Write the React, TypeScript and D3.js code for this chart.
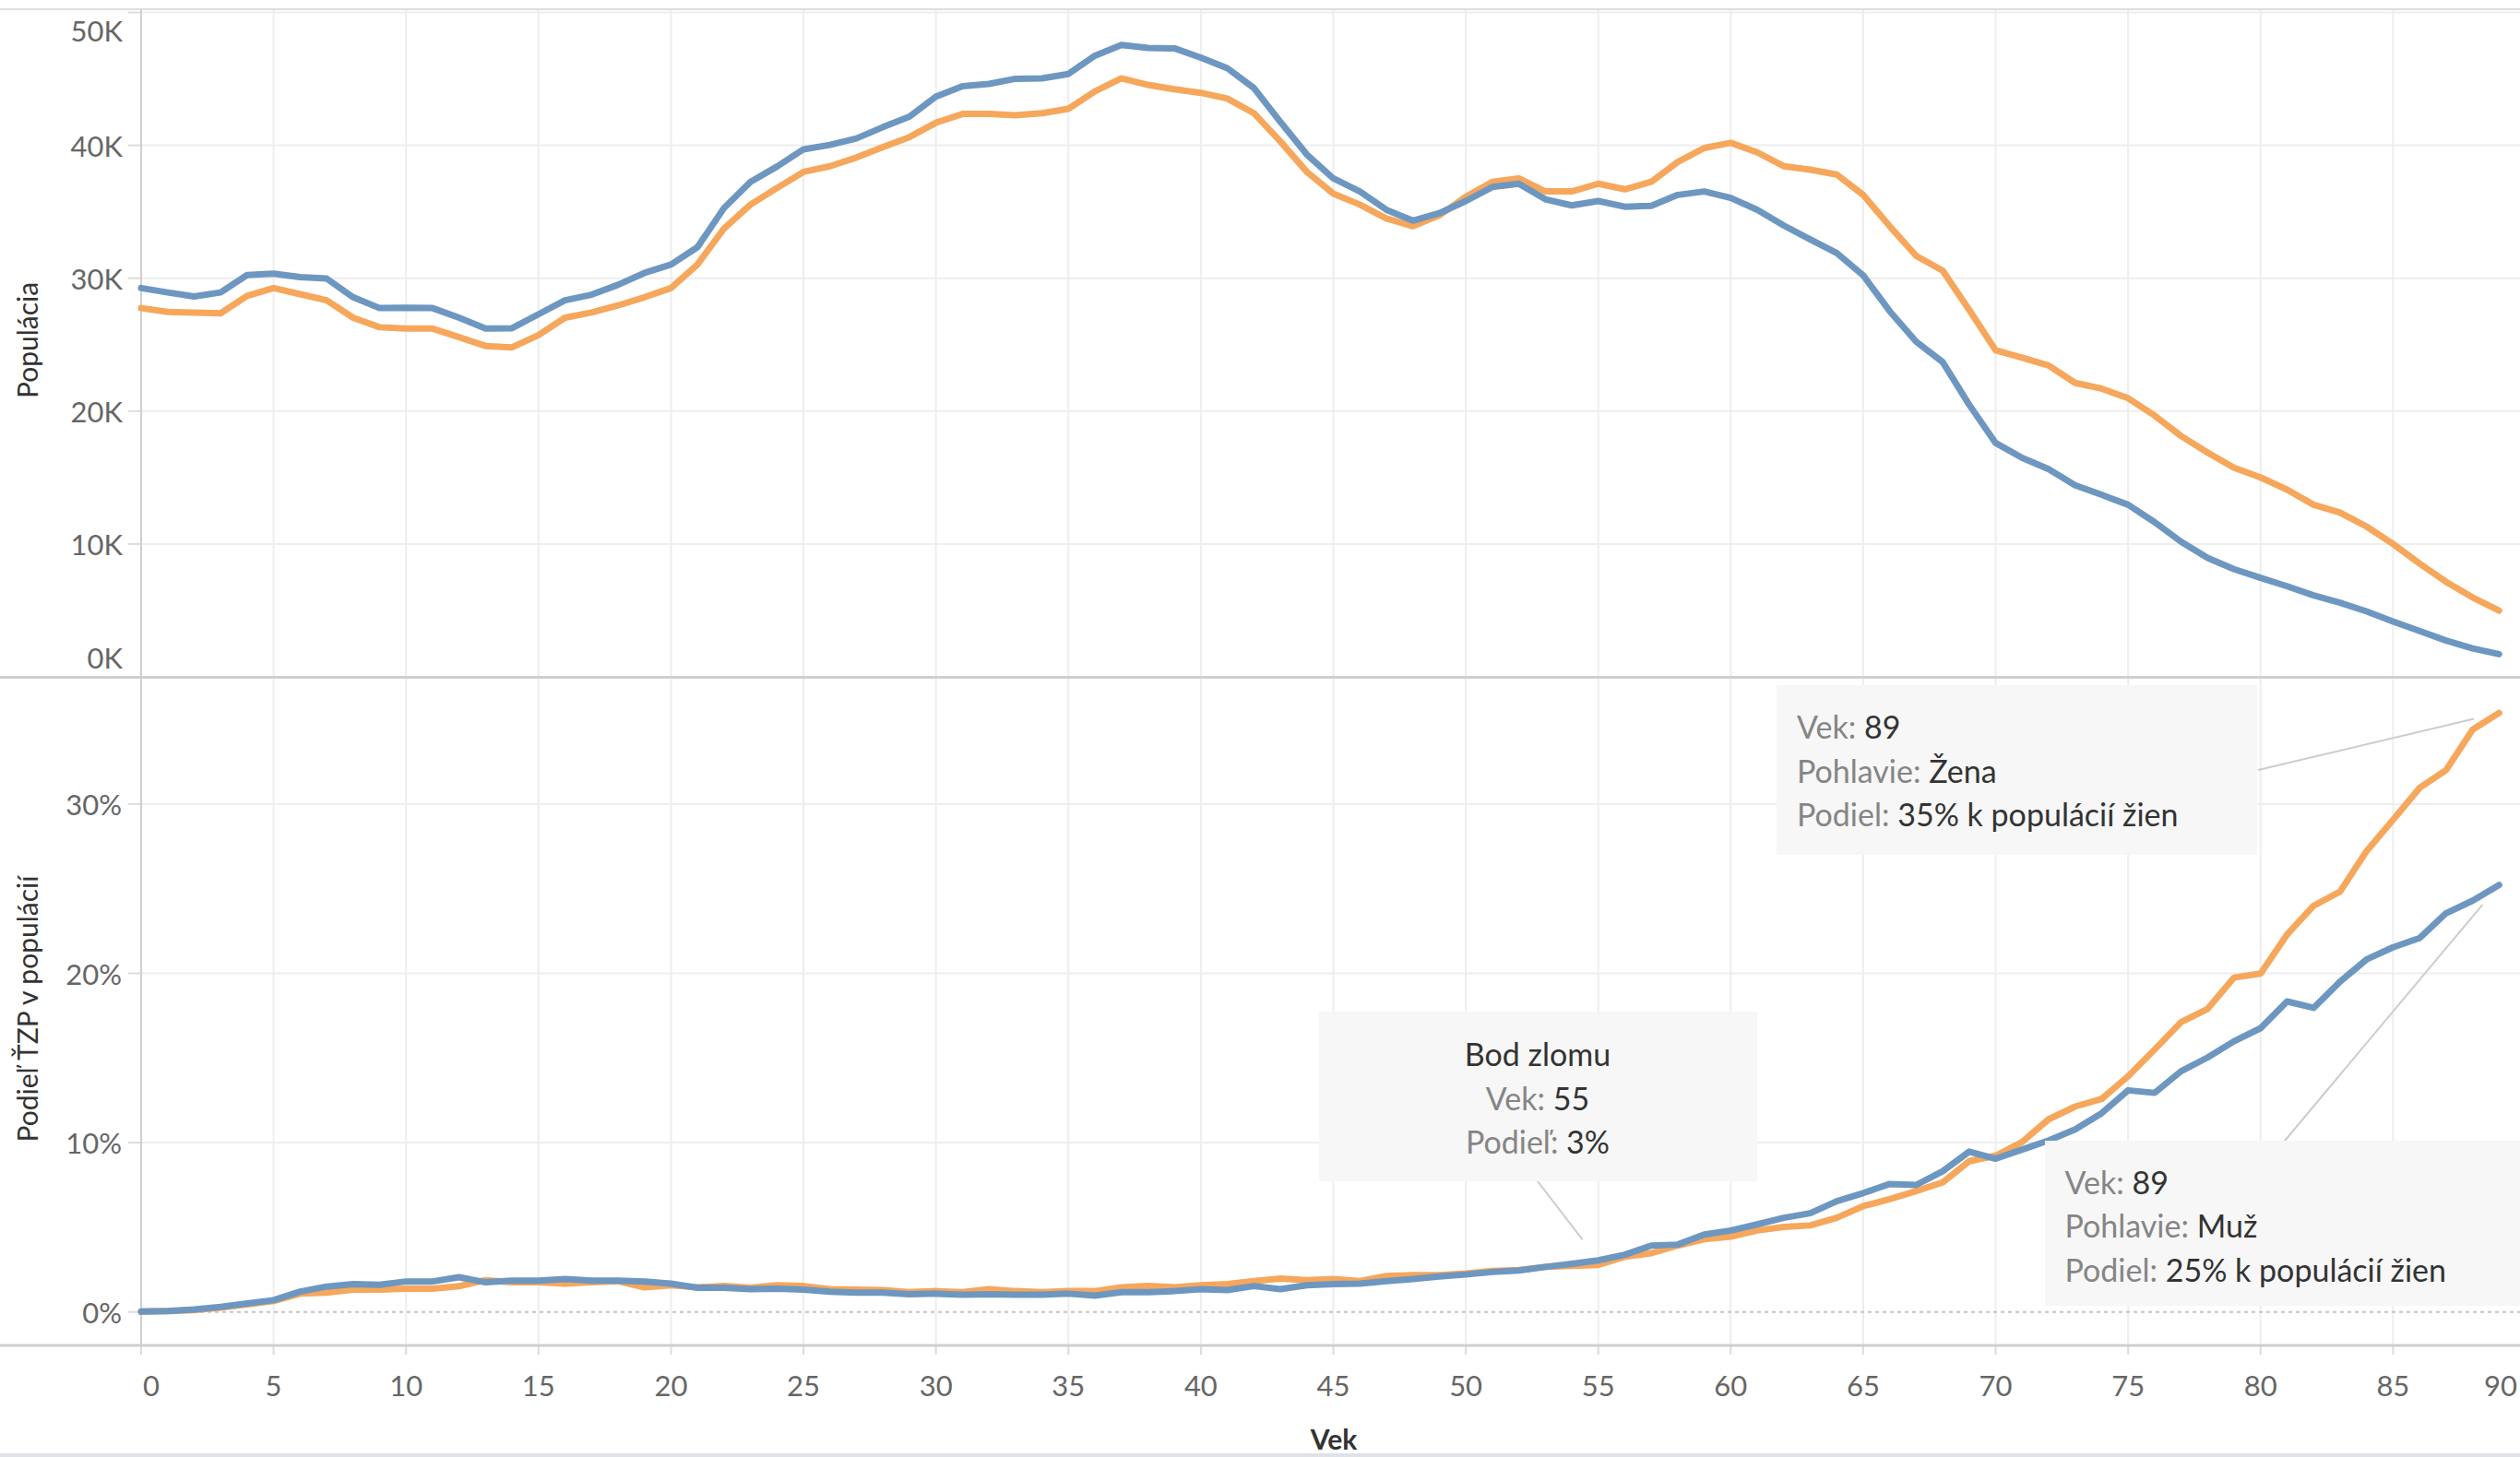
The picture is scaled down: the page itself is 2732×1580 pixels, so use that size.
import React, { useEffect, useRef } from 'react';
import * as d3 from 'd3';

// vek 0..89, index = vek
const popMuzi = [
  29.26, 28.93, 28.63, 28.93, 30.24, 30.34, 30.08, 29.98, 28.57, 27.75,
  27.78, 27.75, 27.03, 26.21, 26.24, 27.29, 28.34, 28.76, 29.5, 30.4,
  31.03, 32.34, 35.28, 37.25, 38.4, 39.7, 40.03, 40.52, 41.37, 42.16,
  43.67, 44.45, 44.62, 45.01, 45.04, 45.37, 46.74, 47.56, 47.33, 47.3,
  46.6, 45.8, 44.32, 41.77, 39.31, 37.51, 36.53, 35.15, 34.33, 34.89,
  35.81, 36.86, 37.11, 35.94, 35.48, 35.81, 35.38, 35.45, 36.27, 36.53,
  36.04, 35.15, 33.97, 32.92, 31.9, 30.21, 27.52, 25.23, 23.69, 20.48,
  17.6, 16.48, 15.63, 14.42, 13.7, 12.95, 11.64, 10.17, 8.95, 8.1,
  7.45, 6.82, 6.13, 5.58, 4.93, 4.17, 3.45, 2.73, 2.14, 1.71,
];
const popZeny = [
  27.75, 27.46, 27.42, 27.36, 28.67, 29.26, 28.8, 28.34, 27.03, 26.31,
  26.21, 26.21, 25.56, 24.9, 24.8, 25.72, 27.03, 27.42, 27.95, 28.57,
  29.26, 31.03, 33.74, 35.54, 36.79, 38.0, 38.43, 39.08, 39.87, 40.62,
  41.7, 42.36, 42.36, 42.26, 42.42, 42.75, 44.06, 45.04, 44.55, 44.22,
  43.95, 43.52, 42.42, 40.29, 38.0, 36.36, 35.54, 34.5, 33.91, 34.73,
  36.13, 37.25, 37.51, 36.53, 36.53, 37.11, 36.69, 37.25, 38.75, 39.8,
  40.19, 39.47, 38.43, 38.17, 37.8, 36.27, 33.91, 31.68, 30.57, 27.62,
  24.57, 24.02, 23.43, 22.12, 21.69, 20.97, 19.66, 18.12, 16.88, 15.73,
  15.01, 14.09, 12.95, 12.36, 11.31, 10.0, 8.53, 7.15, 5.98, 4.99,
];
// podiel TZP v %
const podielMuzi = [
  0.02, 0.05, 0.15, 0.3, 0.5, 0.7, 1.2, 1.5, 1.65, 1.6,
  1.8, 1.8, 2.05, 1.75, 1.85, 1.85, 1.95, 1.85, 1.85, 1.8,
  1.67, 1.43, 1.43, 1.35, 1.37, 1.32, 1.2, 1.14, 1.14, 1.05,
  1.08, 1.02, 1.05, 1.02, 1.02, 1.08, 0.96, 1.17, 1.17, 1.23,
  1.35, 1.29, 1.53, 1.35, 1.58, 1.64, 1.67, 1.82, 1.94, 2.09,
  2.21, 2.36, 2.45, 2.66, 2.84, 3.05, 3.38, 3.92, 3.98, 4.57,
  4.81, 5.17, 5.56, 5.83, 6.54, 7.02, 7.56, 7.5, 8.31, 9.47,
  9.05, 9.59, 10.13, 10.78, 11.74, 13.09, 12.94, 14.22, 15.03, 15.99,
  16.76, 18.34, 17.96, 19.51, 20.82, 21.54, 22.08, 23.55, 24.29, 25.22,
];
const podielZeny = [
  0.02, 0.05, 0.1, 0.25, 0.45, 0.65, 1.08, 1.14, 1.32, 1.32,
  1.37, 1.37, 1.52, 1.88, 1.76, 1.76, 1.67, 1.76, 1.82, 1.45,
  1.58, 1.46, 1.53, 1.43, 1.58, 1.53, 1.35, 1.32, 1.29, 1.17,
  1.23, 1.17, 1.35, 1.23, 1.17, 1.23, 1.23, 1.46, 1.53, 1.46,
  1.58, 1.64, 1.82, 1.97, 1.88, 1.94, 1.82, 2.12, 2.18, 2.18,
  2.27, 2.42, 2.48, 2.66, 2.72, 2.78, 3.26, 3.47, 3.92, 4.3,
  4.45, 4.81, 5.02, 5.11, 5.56, 6.25, 6.66, 7.14, 7.65, 8.9,
  9.23, 10.04, 11.38, 12.13, 12.58, 13.92, 15.5, 17.12, 17.9, 19.75,
  19.99, 22.29, 23.99, 24.83, 27.22, 29.07, 30.95, 32.0, 34.39, 35.38,
];

const ageTicks = [0, 5, 10, 15, 20, 25, 30, 35, 40, 45, 50, 55, 60, 65, 70, 75, 80, 85, 90];
const popTicks = [0, 10000, 20000, 30000, 40000, 50000];
const shareTicks = [0, 0.1, 0.2, 0.3];

const BLUE = '#6d97c0';
const ORANGE = '#f6a75b';
const FONT = 'Lato, "Open Sans", sans-serif';

type Part = { label: string; value: string };
type Note = {
  box: [number, number, number, number];
  lines: Part[];
  align: 'start' | 'middle';
  textX: number;
  firstY: number;
  from: [number, number];
  age: number;
  share: number;
};

const notes: Note[] = [
  {
    box: [1430, 1097, 475, 184],
    lines: [
      { label: '', value: 'Bod zlomu' },
      { label: 'Vek: ', value: '55' },
      { label: 'Podieľ: ', value: '3%' },
    ],
    align: 'middle',
    textX: 1667,
    firstY: 1143.5,
    from: [1667, 1281],
    age: 55,
    share: podielMuzi[55] / 100,
  },
  {
    box: [1926, 743, 521, 184],
    lines: [
      { label: 'Vek: ', value: '89' },
      { label: 'Pohlavie: ', value: 'Žena' },
      { label: 'Podiel: ', value: '35% k populácií žien' },
    ],
    align: 'start',
    textX: 1948,
    firstY: 788.6,
    from: [2448, 835],
    age: 89,
    share: podielZeny[89] / 100,
  },
  {
    box: [2217, 1237, 540, 179],
    lines: [
      { label: 'Vek: ', value: '89' },
      { label: 'Pohlavie: ', value: 'Muž' },
      { label: 'Podiel: ', value: '25% k populácií žien' },
    ],
    align: 'start',
    textX: 2238.5,
    firstY: 1282,
    from: [2477, 1237],
    age: 89,
    share: podielMuzi[89] / 100,
  },
];

export default function App() {
  const svgRef = useRef<SVGSVGElement | null>(null);
  const W = 2732;
  const H = 1580;

  useEffect(() => {
    const svg = d3.select(svgRef.current!);
    svg.selectAll('*').remove();

    const top = { y0: 10, y1: 734 };
    const bot = { y0: 735, y1: 1459 };
    const left = 153;

    const x = d3.scaleLinear().domain([0, 90]).range([left, 2738]);
    const yPop = d3.scaleLinear().domain([0, 50000]).range([734, 13.5]);
    const yShare = d3.scaleLinear().domain([0, 0.3]).range([1422.7, 871.9]);

    // spodny pruh
    svg.append('rect').attr('x', 0).attr('y', 1576).attr('width', W).attr('height', 4).attr('fill', '#dfe2e6');

    const grid = svg.append('g').attr('stroke', '#eeeeee').attr('stroke-width', 2);
    ageTicks.slice(1).forEach((t) => {
      grid.append('line').attr('x1', x(t)).attr('x2', x(t)).attr('y1', top.y0).attr('y2', top.y1);
      grid.append('line').attr('x1', x(t)).attr('x2', x(t)).attr('y1', bot.y0).attr('y2', bot.y1);
    });
    popTicks.slice(1).forEach((t) => {
      grid.append('line').attr('x1', left).attr('x2', W).attr('y1', yPop(t)).attr('y2', yPop(t));
    });
    shareTicks.slice(1).forEach((t) => {
      grid.append('line').attr('x1', left).attr('x2', W).attr('y1', yShare(t)).attr('y2', yShare(t));
    });

    // nulova ciara
    svg
      .append('line')
      .attr('x1', left)
      .attr('x2', W)
      .attr('y1', yShare(0))
      .attr('y2', yShare(0))
      .attr('stroke', '#c4c4c4')
      .attr('stroke-width', 2)
      .attr('stroke-dasharray', '4,4');

    // y ticks
    const ticks = svg.append('g').attr('stroke', '#dcdcdc').attr('stroke-width', 2);
    popTicks.forEach((t) => {
      ticks.append('line').attr('x1', 139).attr('x2', left).attr('y1', yPop(t)).attr('y2', yPop(t));
    });
    shareTicks.forEach((t) => {
      ticks.append('line').attr('x1', 139).attr('x2', left).attr('y1', yShare(t)).attr('y2', yShare(t));
    });
    ageTicks.forEach((t) => {
      ticks.append('line').attr('x1', x(t)).attr('x2', x(t)).attr('y1', bot.y1).attr('y2', bot.y1 + 10);
    });

    // borders
    const borders = svg.append('g').attr('stroke', '#cfcfcf');
    borders.append('line').attr('x1', 0).attr('x2', W).attr('y1', top.y0).attr('y2', top.y0).attr('stroke-width', 2).attr('stroke', '#dedede');
    borders.append('line').attr('x1', 0).attr('x2', W).attr('y1', 734.5).attr('y2', 734.5).attr('stroke-width', 3);
    borders.append('line').attr('x1', 0).attr('x2', W).attr('y1', bot.y1).attr('y2', bot.y1).attr('stroke-width', 3);
    borders.append('line').attr('x1', left).attr('x2', left).attr('y1', top.y0).attr('y2', bot.y1).attr('stroke-width', 2);

    // tick labels
    const lbl = svg
      .append('g')
      .attr('font-family', FONT)
      .attr('font-size', 31)
      .attr('fill', '#666');
    popTicks.forEach((t) => {
      lbl
        .append('text')
        .attr('x', 133)
        .attr('y', Math.min(713, Math.max(33, yPop(t))))
        .attr('text-anchor', 'end')
        .attr('dominant-baseline', 'central')
        .text(d3.format('.0f')(t / 1000) + 'K');
    });
    shareTicks.forEach((t) => {
      lbl
        .append('text')
        .attr('x', 132)
        .attr('y', yShare(t))
        .attr('text-anchor', 'end')
        .attr('dominant-baseline', 'central')
        .text(d3.format('.0%')(t));
    });
    ageTicks.forEach((t, i) => {
      const first = i === 0;
      const last = i === ageTicks.length - 1;
      lbl
        .append('text')
        .attr('x', first ? x(t) + 11 : last ? 2729 : x(t))
        .attr('y', 1502)
        .attr('text-anchor', last ? 'end' : 'middle')
        .attr('dominant-baseline', 'central')
        .text(String(t));
    });

    // axis titles
    const titles = svg.append('g').attr('font-family', FONT).attr('font-size', 30).attr('fill', '#333');
    titles
      .append('text')
      .attr('transform', 'translate(29,369) rotate(-90)')
      .attr('text-anchor', 'middle')
      .attr('dominant-baseline', 'central')
      .text('Populácia');
    titles
      .append('text')
      .attr('transform', 'translate(29,1094) rotate(-90)')
      .attr('text-anchor', 'middle')
      .attr('dominant-baseline', 'central')
      .text('Podieľ ŤZP v populácií');
    titles
      .append('text')
      .attr('x', 1446)
      .attr('y', 1572)
      .attr('text-anchor', 'middle')
      .attr('font-weight', 'bold')
      .text('Vek');

    // lines
    const popLine = d3
      .line<number>()
      .x((_, i) => x(i))
      .y((d) => yPop(d * 1000));
    const shareLine = d3
      .line<number>()
      .x((_, i) => x(i))
      .y((d) => yShare(d / 100));
    const series: [number[], string, typeof popLine][] = [
      [popZeny, ORANGE, popLine],
      [popMuzi, BLUE, popLine],
      [podielZeny, ORANGE, shareLine],
      [podielMuzi, BLUE, shareLine],
    ];
    series.forEach(([data, color, gen]) => {
      svg
        .append('path')
        .attr('d', gen(data))
        .attr('fill', 'none')
        .attr('stroke', color)
        .attr('stroke-width', 7)
        .attr('stroke-linejoin', 'round')
        .attr('stroke-linecap', 'round');
    });

    // anotacie
    notes.forEach((n) => {
      const g = svg.append('g');
      const tx = x(n.age);
      const ty = yShare(n.share);
      const dx = tx - n.from[0];
      const dy = ty - n.from[1];
      const len = Math.sqrt(dx * dx + dy * dy);
      const gap = 28;
      g.append('line')
        .attr('x1', n.from[0])
        .attr('y1', n.from[1])
        .attr('x2', tx - (dx / len) * gap)
        .attr('y2', ty - (dy / len) * gap)
        .attr('stroke', '#cccccc')
        .attr('stroke-width', 2);
      g.append('rect')
        .attr('x', n.box[0])
        .attr('y', n.box[1])
        .attr('width', n.box[2])
        .attr('height', n.box[3])
        .attr('fill', '#f7f7f7')
        .attr('fill-opacity', 0.95);
      n.lines.forEach((p, i) => {
        const t = g
          .append('text')
          .attr('x', n.textX)
          .attr('y', n.firstY + i * 47.5 + 12.5)
          .attr('text-anchor', n.align)
          .attr('font-family', FONT)
          .attr('font-size', 34);
        if (p.label) t.append('tspan').attr('fill', '#858585').text(p.label);
        t.append('tspan').attr('fill', '#333').text(p.value);
      });
    });
  }, []);

  return (
    <svg
      ref={svgRef}
      width={W}
      height={H}
      style={{ position: 'absolute', left: 0, top: 0, background: '#fff' }}
    />
  );
}
